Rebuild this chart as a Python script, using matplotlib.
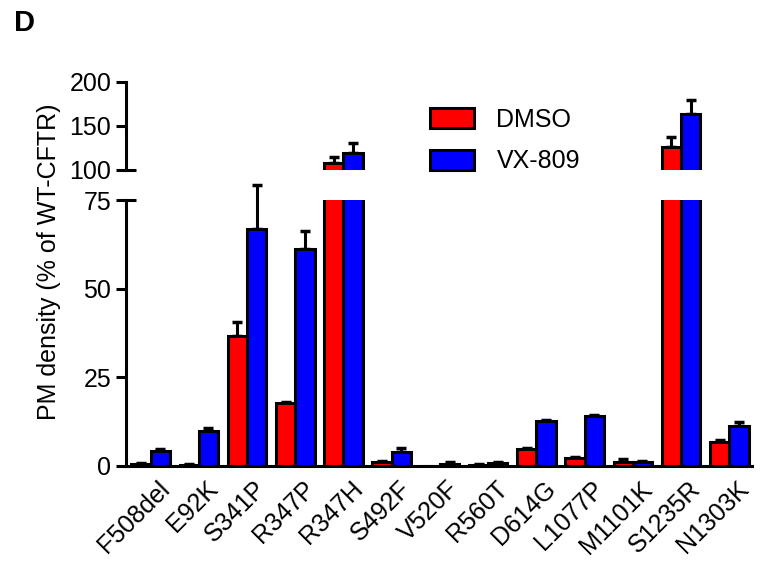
import numpy as np
import matplotlib
matplotlib.use("Agg")
import matplotlib.pyplot as plt
import matplotlib.transforms as mtrans
from matplotlib.patches import Patch

plt.rcParams['font.family'] = ['Liberation Sans', 'DejaVu Sans']

# ---------- data ----------
mutants = ['F508del', 'E92K', 'S341P', 'R347P', 'R347H', 'S492F', 'V520F',
           'R560T', 'D614G', 'L1077P', 'M1101K', 'S1235R', 'N1303K']
dmso = [0.5, 0.2, 36.5, 17.7, 108, 1.0, 0.0, 0.3, 4.6, 2.1, 1.1, 126, 6.8]
dmso_err = [0.3, 0.2, 4.0, 0.4, 7, 0.4, 0.0, 0.1, 0.3, 0.3, 0.8, 12, 0.4]
vx809 = [4.0, 9.9, 66.8, 61.3, 119, 3.8, 0.5, 0.7, 12.5, 13.9, 1.0, 164, 11.2]
vx809_err = [0.6, 0.7, 12.5, 5.0, 12, 1.3, 0.5, 0.3, 0.3, 0.4, 0.2, 15, 1.1]

LOW_MAX = 75
HIGH_MIN, HIGH_MAX = 100, 200

fig = plt.figure(figsize=(7.76, 5.61), dpi=100)
ax_lo = fig.add_axes([0.163, 0.170, 0.806, 0.473])
ax_hi = fig.add_axes([0.163, 0.697, 0.806, 0.157], sharex=ax_lo)

x = np.arange(len(mutants))
w = 0.40
lw = 2.2
fs = 18

for ax in (ax_lo, ax_hi):
    ax.bar(x - w / 2, dmso, w, color='#ff0000', edgecolor='black', linewidth=lw, zorder=2)
    ax.bar(x + w / 2, vx809, w, color='#0000ff', edgecolor='black', linewidth=lw, zorder=2)

# error bars (upper only), drawn in the panel where the bar ends
for vals, errs, off in ((dmso, dmso_err, -w / 2), (vx809, vx809_err, w / 2)):
    for xi, v, e in zip(x, vals, errs):
        if e <= 0:
            continue
        ax = ax_lo if v < LOW_MAX else ax_hi
        ax.errorbar(xi + off, v, yerr=[[0], [e]], fmt='none', ecolor='black',
                    elinewidth=2.2, capsize=3.8, capthick=2.5, zorder=1,
                    clip_on=False)

# lower panel
ax_lo.set_ylim(0, LOW_MAX)
ax_lo.set_yticks([0, 25, 50, 75])
ax_lo.set_xlim(-0.5, 12.47)
ax_lo.spines['top'].set_visible(False)
ax_lo.spines['right'].set_visible(False)
for s in ('left', 'bottom'):
    ax_lo.spines[s].set_linewidth(lw)
ax_lo.tick_params(axis='y', length=7, width=lw, labelsize=fs, pad=4)
ax_lo.tick_params(axis='x', length=0, labelsize=fs, pad=8)
ax_lo.set_xticks(x)
ax_lo.set_xticklabels(mutants, rotation=45, ha='right', rotation_mode='anchor')
shift = mtrans.ScaledTranslation(5 / 72, 0, fig.dpi_scale_trans)
for lab in ax_lo.get_xticklabels():
    lab.set_transform(lab.get_transform() + shift)

# upper panel
ax_hi.set_ylim(HIGH_MIN, HIGH_MAX)
ax_hi.set_yticks([100, 150, 200])
for s in ('top', 'right', 'bottom'):
    ax_hi.spines[s].set_visible(False)
ax_hi.spines['left'].set_linewidth(lw)
ax_hi.tick_params(axis='y', length=7, width=lw, labelsize=fs, pad=4)
ax_hi.tick_params(axis='x', bottom=False, labelbottom=False)

# little break marks at the ends of the broken axis
ax_hi.plot([0, 0.016], [HIGH_MIN, HIGH_MIN], color='black', lw=lw,
           transform=ax_hi.get_yaxis_transform(), clip_on=False, solid_capstyle='butt')
ax_lo.plot([0, 0.016], [LOW_MAX, LOW_MAX], color='black', lw=lw,
           transform=ax_lo.get_yaxis_transform(), clip_on=False, solid_capstyle='butt')

handles = [Patch(facecolor='#ff0000', edgecolor='black', linewidth=lw, label='DMSO'),
           Patch(facecolor='#0000ff', edgecolor='black', linewidth=lw, label='VX-809')]
fig.legend(handles=handles, loc='upper left', bbox_to_anchor=(430 / 776, 1 - 108 / 561),
           frameon=False, fontsize=fs, handlelength=1.76, handleheight=0.85,
           handletextpad=0.9, labelspacing=0.7, borderpad=0, borderaxespad=0)

fig.text(0.063, 1 - 262 / 561, 'PM density (% of WT-CFTR)', rotation=90,
         ha='center', va='center', fontsize=fs)
fig.text(14 / 776, 1 - 23 / 561, 'D', fontsize=21, fontweight='bold',
         ha='left', va='center')

fig.savefig('out.png', dpi=100)
